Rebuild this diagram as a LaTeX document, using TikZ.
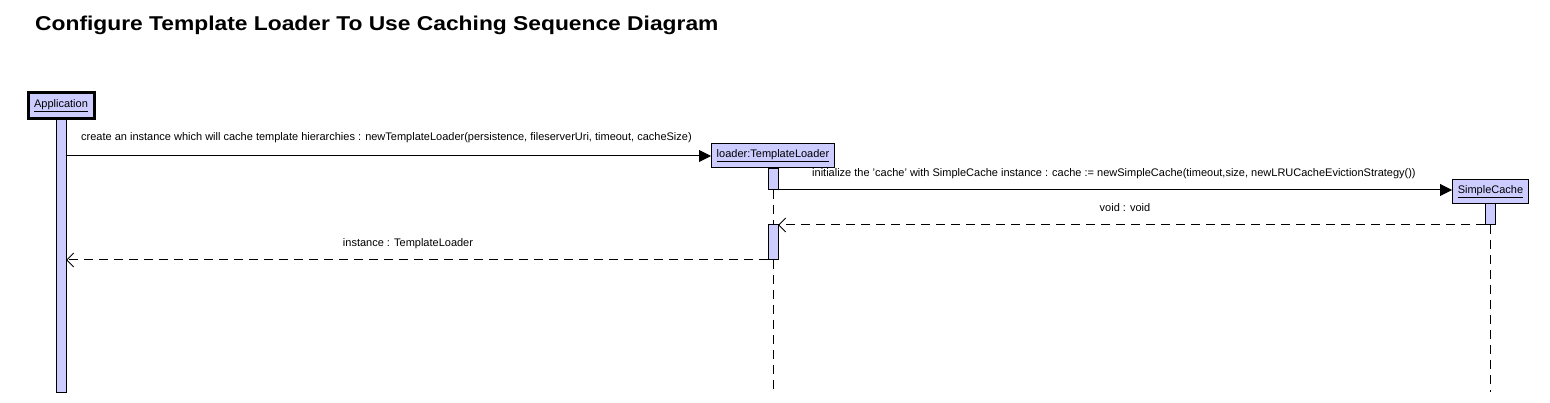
\documentclass[tikz,border=0pt]{standalone}
\usepackage{fontspec}
\setsansfont{Liberation Sans}
\usepackage{xcolor}
\usetikzlibrary{arrows.meta,positioning}
\definecolor{objfill}{RGB}{204,204,255}

\begin{document}
\begin{tikzpicture}[
  x=1pt, y=-1pt,
  font=\sffamily\fontsize{11}{12}\selectfont,
  obj/.style={draw, fill=objfill, line width=1pt, inner sep=2pt, minimum height=24pt},
  act/.style={draw, fill=objfill, line width=1pt, minimum width=10pt, inner sep=0pt, outer sep=0pt},
  life/.style={line width=1pt, dash pattern=on 9pt off 6pt},
  call/.style={-{Triangle[length=12pt,width=12pt]}, line width=1pt},
  ret/.style={-{Straight Barb[length=7pt,width=14pt,line width=1pt]}, line width=1pt, dash pattern=on 9pt off 6pt},
  lbl/.style={inner sep=0pt},
]
\useasboundingbox (0,0) rectangle (1550,403);
% title
\node[anchor=base west, inner sep=0pt, font=\sffamily\bfseries\fontsize{20}{22}\selectfont] (title) at (35,31)
  {\scalebox{1.14}[1]{Configure Template Loader To Use Caching Sequence Diagram}};
% objects
\node[obj, line width=3pt, minimum width=66pt, minimum height=26pt] (app) at (61,106) {\underline{Application}};
\node[obj, minimum width=123pt, anchor=west] (loader) at (711,156) {\underline{loader:TemplateLoader}};
\node[obj, minimum width=76pt, anchor=west] (cache) at (1452,192) {\underline{SimpleCache}};
% activations
\node[act, anchor=north, minimum height=272pt] (appact) at (app.south |- 0,120) {};
\node[act, anchor=north, minimum height=21pt] (ldact1) at (773,169) {};
\node[act, anchor=north, minimum height=35pt] (ldact2) at (773,225) {};
\node[act, anchor=north, minimum height=21pt] (chact) at (1490,204) {};
\coordinate (ldend) at (773,392);
\coordinate (chend) at (1490,392);
% lifelines
\draw[life] (loader.south) -- (ldact1.north);
\draw[life] (ldact1.south) -- (ldact2.north);
\draw[life] (ldact2.south) -- (ldend);
\draw[life] (chact.south) -- (chend);
% messages
\draw[call] (appact.east |- loader.west) -- (loader.west);
\draw[call] (ldact1.south east) -- (ldact1.south east -| cache.west);
\draw[ret] (chact.south west) -- (ldact2.north east);
\draw[ret] (ldact2.south west) -- (ldact2.south west -| appact.east);
% labels
\node[lbl, anchor=base west] (m1) at (81,141) {create an instance which will cache template hierarchies : newTemplateLoader(persistence, fileserverUri, timeout, cacheSize)};
\node[lbl, anchor=base west] (m2) at (812,177) {initialize the 'cache' with SimpleCache instance : cache := newSimpleCache(timeout,size, newLRUCacheEvictionStrategy())};
\node[lbl, anchor=base] (r1) at (1125,212) {void : void};
\node[lbl, anchor=base] (r2) at (408,247) {instance : TemplateLoader};
\end{tikzpicture}
\end{document}
